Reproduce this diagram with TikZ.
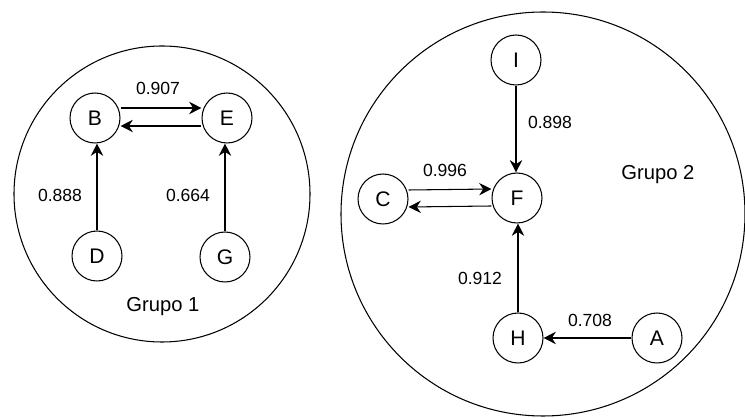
\documentclass[tikz,border=0pt]{standalone}
\usepackage{fontspec}
\setmainfont{Liberation Sans}
\usetikzlibrary{arrows.meta}
\tikzset{
  estado/.style={draw, circle, minimum size=1cm, inner sep=0pt, font=\fontsize{12}{14}\selectfont},
  peso/.style={font=\fontsize{10}{12}\selectfont},
  grupo/.style={font=\fontsize{11.5}{14}\selectfont},
  liga/.style={-{Stealth[length=7pt,width=7pt]}, line width=0.6pt}
}
\begin{document}
\begin{tikzpicture}[x=0.02cm, y=-0.02cm, line width=0.6pt]
                    \useasboundingbox (0, 0) rectangle (745, 418);
                    % grupo 1
                    \draw(162, 194) circle [radius=148];
                        \node[grupo] (g1) at (163, 307){Grupo 1};
                    \node[estado] (B) at (95, 118){B};
                    \node[estado] (E) at (227, 118){E};
                    \node[estado] (D) at (97, 256){D};
                    \node[estado] (G) at (225, 257){G};
                    \draw[liga]([yshift=0.2cm]B.east) to ([yshift=0.2cm]E.west);
                        \node[peso] (bE) at (158, 88){0.907};
                    \draw[liga]([yshift=-0.16cm]E.west) to ([yshift=-0.16cm]B.east);
                    \draw[liga](D.north) to (D.north |- B.south);
                        \node[peso] (dB) at (60, 195){0.888};
                    \draw[liga](G.north) to (G.north |- E.south);
                        \node[peso] (gE) at (188, 195){0.664};
                    % grupo 2
                    \draw(543, 214) circle [radius=202];
                        \node[grupo] (g2) at (658, 175){Grupo 2};
                    \node[estado] (I) at (516, 60){I};
                    \node[estado] (F) at (517, 198){F};
                    \node[estado] (C) at (383, 199){C};
                    \node[estado] (H) at (518, 338){H};
                    \node[estado] (A) at (657, 338){A};
                    \draw[liga](I.south) to (I.south |- F.north);
                        \node[peso] (iF) at (550, 122){0.898};
                    \draw[liga]([yshift=0.18cm]C.east) to ([yshift=0.18cm]F.west);
                        \node[peso] (cF) at (445, 170){0.996};
                    \draw[liga]([yshift=-0.16cm]F.west) to ([yshift=-0.16cm]C.east);
                    \draw[liga](H.north) to (H.north |- F.south);
                        \node[peso] (hF) at (480, 278){0.912};
                    \draw[liga](A.west) to (H.east);
                        \node[peso] (aH) at (590, 320){0.708};
                \end{tikzpicture}
\end{document}
